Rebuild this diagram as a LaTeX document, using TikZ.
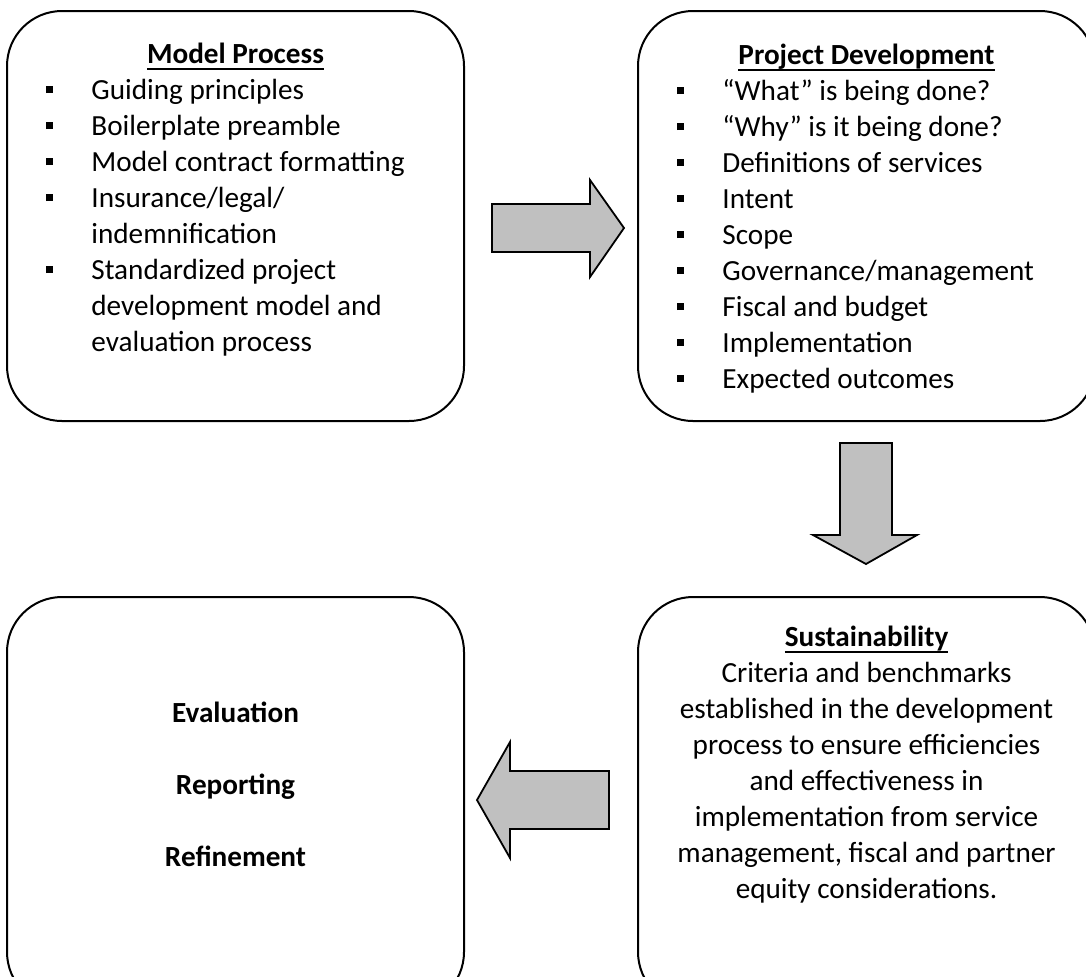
\documentclass[tikz,border=0pt]{standalone}
\usepackage{fontspec}
\setmainfont{Carlito}
\usepackage{tikz}

\definecolor{arrowgray}{RGB}{192,192,192}
\newlength{\headwd}
\newcommand{\ulhead}[1]{\settowidth{\headwd}{#1}\rlap{\rule[-3.4pt]{\headwd}{0.9pt}}#1}
\newcommand{\sqbullet}{\makebox[22.75pt][l]{\raisebox{3pt}{\rule{3.6pt}{3.6pt}}}}
\newcommand{\contd}{\hspace*{22.75pt}}

\begin{document}
\begin{tikzpicture}[x=0.5pt, y=-0.5pt,
    stage/.style={draw, line width=1pt, rounded corners=27.5pt,
                  minimum width=228.5pt, minimum height=205pt, inner sep=0pt},
    txt/.style={inner sep=0pt, font=\fontsize{14.6}{18}\selectfont},
    head/.style={txt, font=\fontsize{14.6}{18}\selectfont\bfseries},
    blockarrow/.style={draw, line width=0.9pt, fill=arrowgray, line join=miter},
]
\useasboundingbox (0,0) rectangle (1086,976);
\clip (0,0) rectangle (1086,976);

% The four stages
\node[stage] (model)    at (235.5,216) {};
\node[stage] (develop)  at (866.5,216) {};
\node[stage] (evaluate) at (235.5,802) {};
\node[stage] (sustain)  at (866.5,802) {};

% Model process
\node[head, anchor=base] (modelHead) at (235.5,63) {\ulhead{Model Process}};
\node[txt, anchor=base west] (modelList) at (45.5,99) {%
  \begin{tabular}[t]{@{}l@{}}
    \sqbullet Guiding principles\\
    \sqbullet Boilerplate preamble\\
    \sqbullet Model contract formatting\\
    \sqbullet Insurance/legal/\\
    \contd indemnification\\
    \sqbullet Standardized project\\
    \contd development model and\\
    \contd evaluation process
  \end{tabular}};

% Project development
\node[head, anchor=base] (developHead) at (866.5,64) {\ulhead{Project Development}};
\node[txt, anchor=base west] (developList) at (676.5,100) {%
  \begin{tabular}[t]{@{}l@{}}
    \sqbullet “What” is being done?\\
    \sqbullet “Why” is it being done?\\
    \sqbullet Definitions of services\\
    \sqbullet Intent\\
    \sqbullet Scope\\
    \sqbullet Governance/management\\
    \sqbullet Fiscal and budget\\
    \sqbullet Implementation\\
    \sqbullet Expected outcomes
  \end{tabular}};

% Sustainability
\node[txt, anchor=base] (sustainText) at (866.5,646) {%
  \begin{tabular}[t]{@{}c@{}}
    \textbf{\ulhead{Sustainability}}\\
    Criteria and benchmarks\\
    established in the development\\
    process to ensure efficiencies\\
    and effectiveness in\\
    implementation from service\\
    management, fiscal and partner\\
    equity considerations.
  \end{tabular}};

% Evaluation / reporting / refinement
\node[head, anchor=base] (evaluateText) at (235.5,722) {%
  \begin{tabular}[t]{@{}c@{}}
    Evaluation\\[18pt]
    Reporting\\[18pt]
    Refinement
  \end{tabular}};

% Block arrows between the stages
\draw[blockarrow] (492,204) -- (590,204) -- (590,180) -- (624,228)
    -- (590,277) -- (590,252) -- (492,252) -- cycle;
\draw[blockarrow] (840,443) -- (892,443) -- (892,535) -- (917,535)
    -- (866,564) -- (813,535) -- (840,535) -- cycle;
\draw[blockarrow] (609,771) -- (510,771) -- (510,742) -- (477,800)
    -- (510,858) -- (510,829) -- (609,829) -- cycle;
\end{tikzpicture}
\end{document}
